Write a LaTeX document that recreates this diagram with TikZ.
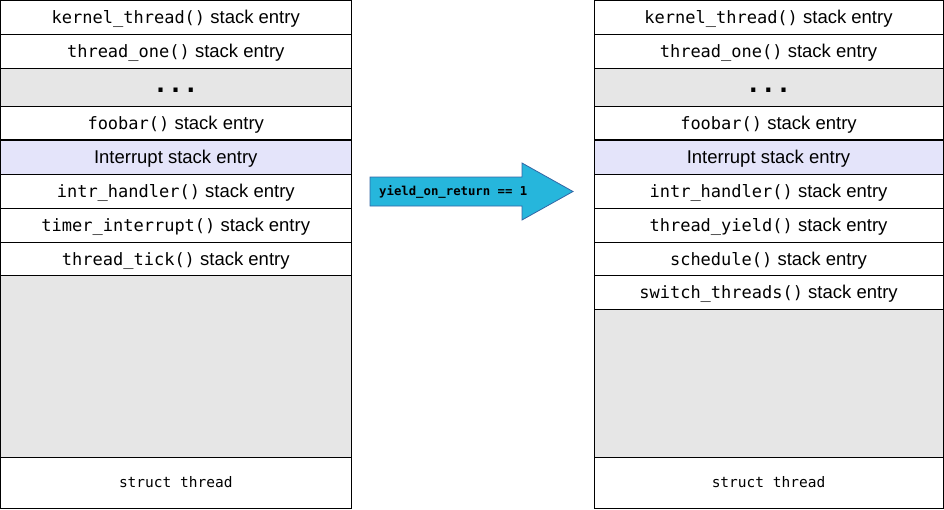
\documentclass[tikz,border=0pt]{standalone}
\usepackage{fontspec}
\setmainfont{Liberation Sans}
\newfontfamily\codefont{DejaVu Sans Mono}
\usetikzlibrary{positioning}
\definecolor{stackgray}{RGB}{230,230,230}
\definecolor{intrlav}{RGB}{228,228,250}
\definecolor{arrowfill}{RGB}{38,182,220}
\definecolor{arrowline}{RGB}{52,101,164}
\tikzset{
  row/.style={draw=black, line width=0.9pt, anchor=north west, inner sep=0pt, outer sep=0pt, minimum width=#1},
  entry/.style={font=\fontsize{18.5}{20}\selectfont, text height=16.5pt, text depth=4pt},
  dots/.style={font=\codefont\bfseries\fontsize{25}{25}\selectfont, text height=14pt, text depth=4pt},
  structtxt/.style={font=\codefont\fontsize{14.5}{16}\selectfont},
  arrowlbl/.style={font=\codefont\bfseries\fontsize{12.3}{14}\selectfont, inner sep=0pt}
}
\newcommand{\cf}[1]{{\codefont\fontsize{17}{20}\selectfont #1}}
\begin{document}
\begin{tikzpicture}[x=1pt,y=-1pt]
\useasboundingbox (0,0) rectangle (944,509);
% ---------- left stack ----------
\node[row=350.5pt, minimum height=34pt, entry] (l1) at (0.5,0.5) {\cf{kernel\_thread()} stack entry};
\node[row=350.5pt, minimum height=33.5pt, entry] (l2) at (0.5,34.5) {\cf{thread\_one()} stack entry};
\node[row=350.5pt, minimum height=38pt, fill=stackgray, dots] (l3) at (0.5,68) {...};
\node[row=350.5pt, minimum height=34pt, entry] (l4) at (0.5,106) {\cf{foobar()} stack entry};
\node[row=350.5pt, minimum height=34pt, fill=intrlav, entry] (l5) at (0.5,140) {Interrupt stack entry};
\node[row=350.5pt, minimum height=34pt, entry] (l6) at (0.5,174) {\cf{intr\_handler()} stack entry};
\node[row=350.5pt, minimum height=34pt, entry] (l7) at (0.5,208) {\cf{timer\_interrupt()} stack entry};
\node[row=350.5pt, minimum height=33.5pt, entry] (l8) at (0.5,242) {\cf{thread\_tick()} stack entry};
\node[row=350.5pt, minimum height=181.5pt, fill=stackgray] (l9) at (0.5,275.5) {};
\node[row=350.5pt, minimum height=51pt, structtxt] (l10) at (0.5,457) {struct thread};
\draw[line width=2pt] (l5.north west) -- (l5.north east);
% ---------- right stack ----------
\node[row=349pt, minimum height=34pt, entry] (r1) at (594,0.5) {\cf{kernel\_thread()} stack entry};
\node[row=349pt, minimum height=33.5pt, entry] (r2) at (594,34.5) {\cf{thread\_one()} stack entry};
\node[row=349pt, minimum height=38pt, fill=stackgray, dots] (r3) at (594,68) {...};
\node[row=349pt, minimum height=34pt, entry] (r4) at (594,106) {\cf{foobar()} stack entry};
\node[row=349pt, minimum height=34pt, fill=intrlav, entry] (r5) at (594,140) {Interrupt stack entry};
\node[row=349pt, minimum height=34pt, entry] (r6) at (594,174) {\cf{intr\_handler()} stack entry};
\node[row=349pt, minimum height=34pt, entry] (r7) at (594,208) {\cf{thread\_yield()} stack entry};
\node[row=349pt, minimum height=33.5pt, entry] (r8) at (594,242) {\cf{schedule()} stack entry};
\node[row=349pt, minimum height=34pt, entry] (r9) at (594,275.5) {\cf{switch\_threads()} stack entry};
\node[row=349pt, minimum height=147.5pt, fill=stackgray] (r10) at (594,309.5) {};
\node[row=349pt, minimum height=51pt, structtxt] (r11) at (594,457) {struct thread};
\draw[line width=2pt] (r5.north west) -- (r5.north east);
% ---------- arrow ----------
\draw[fill=arrowfill, draw=arrowline, line width=0.8pt, line join=miter]
  (370,177) -- (522,177) -- (522,163) -- (573,191.5) -- (522,220) -- (522,206) -- (370,206) -- cycle;
\node[arrowlbl, anchor=west] (lbl) at (379,191.5) {yield\_on\_return == 1};
\end{tikzpicture}
\end{document}
